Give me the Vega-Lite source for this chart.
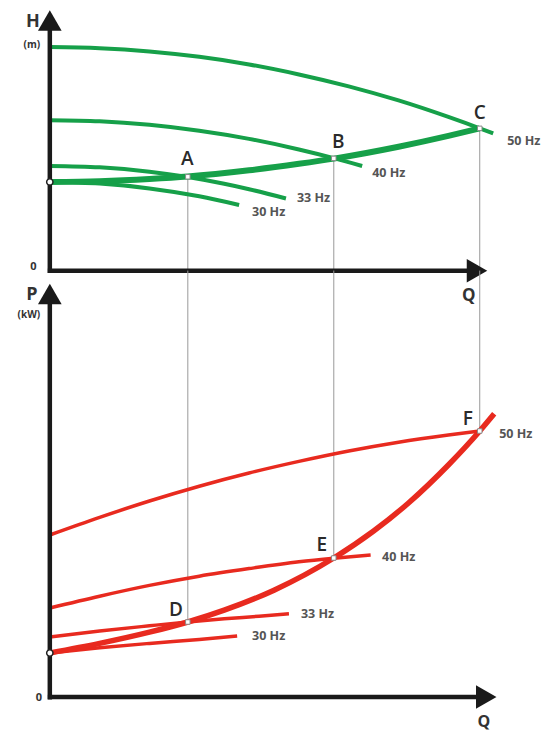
{
  "$schema": "https://vega.github.io/schema/vega-lite/v6.json",
  "width": 548,
  "height": 731,
  "autosize": {"type": "fit", "contains": "padding"},
  "padding": 0,
  "background": "#ffffff",
  "config": {"view": {"stroke": null}, "text": {"font": "Open Sans"}},
  "datasets": {
    "top_curves": [
      {"f": "50 Hz", "Q": 0, "H": 82.6}, {"f": "50 Hz", "Q": 10, "H": 82.2}, {"f": "50 Hz", "Q": 20, "H": 81.0}, {"f": "50 Hz", "Q": 30, "H": 79.0}, {"f": "50 Hz", "Q": 40, "H": 76.2}, {"f": "50 Hz", "Q": 50, "H": 72.5}, {"f": "50 Hz", "Q": 60, "H": 68.1}, {"f": "50 Hz", "Q": 70, "H": 62.9}, {"f": "50 Hz", "Q": 80, "H": 56.8}, {"f": "50 Hz", "Q": 86.3, "H": 52.6}, {"f": "50 Hz", "Q": 89, "H": 50.7},
      {"f": "40 Hz", "Q": 0, "H": 55.6}, {"f": "40 Hz", "Q": 10, "H": 55.2}, {"f": "40 Hz", "Q": 20, "H": 53.9}, {"f": "40 Hz", "Q": 30, "H": 51.7}, {"f": "40 Hz", "Q": 40, "H": 48.7}, {"f": "40 Hz", "Q": 50, "H": 44.8}, {"f": "40 Hz", "Q": 57, "H": 41.6}, {"f": "40 Hz", "Q": 62.7, "H": 38.7},
      {"f": "33 Hz", "Q": 0, "H": 38.7}, {"f": "33 Hz", "Q": 10, "H": 38.2}, {"f": "33 Hz", "Q": 20, "H": 36.6}, {"f": "33 Hz", "Q": 27.7, "H": 34.6}, {"f": "33 Hz", "Q": 35, "H": 32.1}, {"f": "33 Hz", "Q": 40, "H": 30.1}, {"f": "33 Hz", "Q": 47.4, "H": 26.7},
      {"f": "30 Hz", "Q": 0, "H": 32.8}, {"f": "30 Hz", "Q": 10, "H": 32.2}, {"f": "30 Hz", "Q": 20, "H": 30.4}, {"f": "30 Hz", "Q": 30, "H": 27.5}, {"f": "30 Hz", "Q": 38, "H": 24.3}
    ],
    "top_system": [
      {"Q": 0, "H": 32.8}, {"Q": 10, "H": 33.1}, {"Q": 20, "H": 33.9}, {"Q": 27.7, "H": 34.8}, {"Q": 40, "H": 37.1}, {"Q": 50, "H": 39.5}, {"Q": 57, "H": 41.4}, {"Q": 70, "H": 45.8}, {"Q": 80, "H": 49.8}, {"Q": 86.3, "H": 52.6}
    ],
    "top_points": [
      {"name": "A", "Q": 27.7, "H": 34.7},
      {"name": "B", "Q": 57, "H": 41.5},
      {"name": "C", "Q": 86.3, "H": 52.6}
    ],
    "top_axes": [
      {"Q": 0, "Q2": 0, "H": -0.8, "H2": 90},
      {"Q": -0.4, "Q2": 85, "H": 0, "H2": 0}
    ],
    "top_arrows": [
      {"shape": "triangle-up", "Q": 0, "H": 92.4},
      {"shape": "triangle-right", "Q": 85.75, "H": 0}
    ],
    "top_labels": [
      {"t": "H", "Q": -3.4, "H": 92.0, "s": 18},
      {"t": "(m)", "Q": -3.6, "H": 83.4, "s": 10},
      {"t": "0", "Q": -3.3, "H": 1.4, "s": 11},
      {"t": "Q", "Q": 84.1, "H": -9.3, "s": 17}
    ],
    "top_letters": [
      {"t": "A", "Q": 27.6, "H": 39.0},
      {"t": "B", "Q": 57.9, "H": 45.4},
      {"t": "C", "Q": 86.3, "H": 56.2}
    ],
    "top_hz": [
      {"t": "50 Hz", "Q": 91.8, "H": 47.9},
      {"t": "40 Hz", "Q": 64.7, "H": 36.0},
      {"t": "33 Hz", "Q": 49.6, "H": 26.85},
      {"t": "30 Hz", "Q": 40.6, "H": 21.7}
    ],
    "bottom_curves": [
      {"f": "50 Hz", "Q": 0, "P": 40.5}, {"f": "50 Hz", "Q": 10, "P": 44.9}, {"f": "50 Hz", "Q": 20, "P": 49.0}, {"f": "50 Hz", "Q": 30, "P": 52.7}, {"f": "50 Hz", "Q": 40, "P": 56.0}, {"f": "50 Hz", "Q": 50, "P": 58.9}, {"f": "50 Hz", "Q": 60, "P": 61.5}, {"f": "50 Hz", "Q": 70, "P": 63.7}, {"f": "50 Hz", "Q": 80, "P": 65.5}, {"f": "50 Hz", "Q": 86.3, "P": 66.5},
      {"f": "40 Hz", "Q": 0, "P": 22.25}, {"f": "40 Hz", "Q": 10, "P": 25.2}, {"f": "40 Hz", "Q": 20, "P": 27.9}, {"f": "40 Hz", "Q": 30, "P": 30.2}, {"f": "40 Hz", "Q": 40, "P": 32.1}, {"f": "40 Hz", "Q": 50, "P": 33.8}, {"f": "40 Hz", "Q": 57, "P": 34.7}, {"f": "40 Hz", "Q": 64.4, "P": 35.5},
      {"f": "33 Hz", "Q": 0, "P": 15}, {"f": "33 Hz", "Q": 10, "P": 16.5}, {"f": "33 Hz", "Q": 20, "P": 17.8}, {"f": "33 Hz", "Q": 27.7, "P": 18.75}, {"f": "33 Hz", "Q": 35, "P": 19.55}, {"f": "33 Hz", "Q": 42, "P": 20.2}, {"f": "33 Hz", "Q": 48, "P": 20.8},
      {"f": "30 Hz", "Q": 0, "P": 11}, {"f": "30 Hz", "Q": 10, "P": 12.3}, {"f": "30 Hz", "Q": 20, "P": 13.4}, {"f": "30 Hz", "Q": 30, "P": 14.4}, {"f": "30 Hz", "Q": 37.6, "P": 15.25}
    ],
    "bottom_system": [
      {"Q": 0, "P": 11}, {"Q": 10, "P": 13.4}, {"Q": 20, "P": 16.2}, {"Q": 27.7, "P": 18.75}, {"Q": 35, "P": 21.7}, {"Q": 45, "P": 26.7}, {"Q": 57, "P": 34.75}, {"Q": 65, "P": 41.5}, {"Q": 72, "P": 48.5}, {"Q": 80, "P": 58.0}, {"Q": 86.3, "P": 66.5}, {"Q": 89.2, "P": 70.8}
    ],
    "bottom_points": [
      {"name": "D", "Q": 27.7, "P": 18.75, "Ptop": 106.6},
      {"name": "E", "Q": 57, "P": 34.75, "Ptop": 106.6},
      {"name": "F", "Q": 86.3, "P": 66.5, "Ptop": 106.6}
    ],
    "bottom_axes": [
      {"Q": 0, "Q2": 0, "P": -0.6, "P2": 99},
      {"Q": -0.4, "Q2": 87, "P": 0, "P2": 0}
    ],
    "bottom_arrows": [
      {"shape": "triangle-up", "Q": 0, "P": 100.75},
      {"shape": "triangle-right", "Q": 87.6, "P": 0}
    ],
    "bottom_labels": [
      {"t": "P", "Q": -3.6, "P": 100.5, "s": 18},
      {"t": "(kW)", "Q": -4.2, "P": 95.5, "s": 10},
      {"t": "0", "Q": -2.2, "P": -0.25, "s": 11},
      {"t": "Q", "Q": 87.1, "P": -6.2, "s": 16}
    ],
    "bottom_letters": [
      {"t": "D", "Q": 25.3, "P": 20.2},
      {"t": "E", "Q": 54.6, "P": 36.4},
      {"t": "F", "Q": 83.9, "P": 67.9}
    ],
    "bottom_hz": [
      {"t": "50 Hz", "Q": 90.2, "P": 65.75},
      {"t": "40 Hz", "Q": 66.7, "P": 35.0},
      {"t": "33 Hz", "Q": 50.4, "P": 20.75},
      {"t": "30 Hz", "Q": 40.6, "P": 15.25}
    ]
  },
  "resolve": {"scale": {"y": "independent"}},
  "layer": [
    {
      "layer": [
        {
          "data": {"name": "top_points"},
          "mark": {"type": "rule", "color": "#9a9a9a", "strokeWidth": 1},
          "encoding": {
            "x": {"field": "Q", "type": "quantitative", "scale": {"domain": [-10, 100], "nice": false, "zero": false}, "axis": null},
            "y": {"field": "H", "type": "quantitative", "scale": {"domain": [-170, 100], "nice": false, "zero": false}, "axis": null},
            "y2": {"datum": 0}
          }
        },
        {
          "data": {"name": "top_curves"},
          "mark": {"type": "line", "color": "#16a049", "strokeWidth": 4, "interpolate": "monotone"},
          "encoding": {
            "x": {"field": "Q", "type": "quantitative"},
            "y": {"field": "H", "type": "quantitative"},
            "detail": {"field": "f"}
          }
        },
        {
          "data": {"name": "top_system"},
          "mark": {"type": "line", "color": "#16a049", "strokeWidth": 6, "interpolate": "monotone"},
          "encoding": {
            "x": {"field": "Q", "type": "quantitative"},
            "y": {"field": "H", "type": "quantitative"}
          }
        },
        {
          "data": {"name": "top_axes"},
          "mark": {"type": "rule", "color": "#1a1a1a", "strokeWidth": 4.5},
          "encoding": {
            "x": {"field": "Q", "type": "quantitative"},
            "x2": {"field": "Q2"},
            "y": {"field": "H", "type": "quantitative"},
            "y2": {"field": "H2"}
          }
        },
        {
          "data": {"name": "top_arrows"},
          "mark": {"type": "point", "filled": true, "color": "#1a1a1a", "size": 560, "opacity": 1},
          "encoding": {
            "x": {"field": "Q", "type": "quantitative"},
            "y": {"field": "H", "type": "quantitative"},
            "shape": {"field": "shape", "type": "nominal", "scale": null}
          }
        },
        {
          "data": {"values": [{"Q": 0, "H": 32.8}]},
          "mark": {"type": "point", "filled": true, "fill": "#ffffff", "stroke": "#222222", "strokeWidth": 1.5, "size": 40, "opacity": 1, "shape": "circle"},
          "encoding": {
            "x": {"field": "Q", "type": "quantitative"},
            "y": {"field": "H", "type": "quantitative"}
          }
        },
        {
          "data": {"name": "top_points"},
          "mark": {"type": "point", "filled": true, "fill": "#ffffff", "stroke": "#8a8a8a", "strokeWidth": 1, "size": 20, "opacity": 1, "shape": "square"},
          "encoding": {
            "x": {"field": "Q", "type": "quantitative"},
            "y": {"field": "H", "type": "quantitative"}
          }
        },
        {
          "data": {"name": "top_labels"},
          "mark": {"type": "text", "align": "center", "baseline": "middle", "color": "#333333", "fontWeight": "bold"},
          "encoding": {
            "x": {"field": "Q", "type": "quantitative"},
            "y": {"field": "H", "type": "quantitative"},
            "text": {"field": "t"},
            "size": {"field": "s", "type": "quantitative", "scale": null}
          }
        },
        {
          "data": {"name": "top_letters"},
          "mark": {"type": "text", "align": "center", "baseline": "alphabetic", "color": "#2a2a2a", "fontSize": 19, "fontWeight": 600},
          "encoding": {
            "x": {"field": "Q", "type": "quantitative"},
            "y": {"field": "H", "type": "quantitative"},
            "text": {"field": "t"}
          }
        },
        {
          "data": {"name": "top_hz"},
          "mark": {"type": "text", "align": "left", "baseline": "middle", "color": "#555555", "fontSize": 12.5, "fontWeight": "bold"},
          "encoding": {
            "x": {"field": "Q", "type": "quantitative"},
            "y": {"field": "H", "type": "quantitative"},
            "text": {"field": "t"}
          }
        }
      ]
    },
    {
      "layer": [
        {
          "data": {"name": "bottom_points"},
          "mark": {"type": "rule", "color": "#9a9a9a", "strokeWidth": 1},
          "encoding": {
            "x": {"field": "Q", "type": "quantitative"},
            "y": {"field": "P", "type": "quantitative", "scale": {"domain": [-8.5, 174.25], "nice": false, "zero": false}, "axis": null},
            "y2": {"field": "Ptop"}
          }
        },
        {
          "data": {"name": "bottom_curves"},
          "mark": {"type": "line", "color": "#e82a1f", "strokeWidth": 3.5, "interpolate": "monotone"},
          "encoding": {
            "x": {"field": "Q", "type": "quantitative"},
            "y": {"field": "P", "type": "quantitative"},
            "detail": {"field": "f"}
          }
        },
        {
          "data": {"name": "bottom_system"},
          "mark": {"type": "line", "color": "#e82a1f", "strokeWidth": 5.5, "interpolate": "monotone"},
          "encoding": {
            "x": {"field": "Q", "type": "quantitative"},
            "y": {"field": "P", "type": "quantitative"}
          }
        },
        {
          "data": {"name": "bottom_axes"},
          "mark": {"type": "rule", "color": "#1a1a1a", "strokeWidth": 4.5},
          "encoding": {
            "x": {"field": "Q", "type": "quantitative"},
            "x2": {"field": "Q2"},
            "y": {"field": "P", "type": "quantitative"},
            "y2": {"field": "P2"}
          }
        },
        {
          "data": {"name": "bottom_arrows"},
          "mark": {"type": "point", "filled": true, "color": "#1a1a1a", "size": 560, "opacity": 1},
          "encoding": {
            "x": {"field": "Q", "type": "quantitative"},
            "y": {"field": "P", "type": "quantitative"},
            "shape": {"field": "shape", "type": "nominal", "scale": null}
          }
        },
        {
          "data": {"values": [{"Q": 0, "P": 11}]},
          "mark": {"type": "point", "filled": true, "fill": "#ffffff", "stroke": "#222222", "strokeWidth": 1.5, "size": 40, "opacity": 1, "shape": "circle"},
          "encoding": {
            "x": {"field": "Q", "type": "quantitative"},
            "y": {"field": "P", "type": "quantitative"}
          }
        },
        {
          "data": {"name": "bottom_points"},
          "mark": {"type": "point", "filled": true, "fill": "#ffffff", "stroke": "#8a8a8a", "strokeWidth": 1, "size": 20, "opacity": 1, "shape": "square"},
          "encoding": {
            "x": {"field": "Q", "type": "quantitative"},
            "y": {"field": "P", "type": "quantitative"}
          }
        },
        {
          "data": {"name": "bottom_labels"},
          "mark": {"type": "text", "align": "center", "baseline": "middle", "color": "#333333", "fontWeight": "bold"},
          "encoding": {
            "x": {"field": "Q", "type": "quantitative"},
            "y": {"field": "P", "type": "quantitative"},
            "text": {"field": "t"},
            "size": {"field": "s", "type": "quantitative", "scale": null}
          }
        },
        {
          "data": {"name": "bottom_letters"},
          "mark": {"type": "text", "align": "center", "baseline": "alphabetic", "color": "#2a2a2a", "fontSize": 19, "fontWeight": 600},
          "encoding": {
            "x": {"field": "Q", "type": "quantitative"},
            "y": {"field": "P", "type": "quantitative"},
            "text": {"field": "t"}
          }
        },
        {
          "data": {"name": "bottom_hz"},
          "mark": {"type": "text", "align": "left", "baseline": "middle", "color": "#555555", "fontSize": 12.5, "fontWeight": "bold"},
          "encoding": {
            "x": {"field": "Q", "type": "quantitative"},
            "y": {"field": "P", "type": "quantitative"},
            "text": {"field": "t"}
          }
        }
      ]
    }
  ]
}
